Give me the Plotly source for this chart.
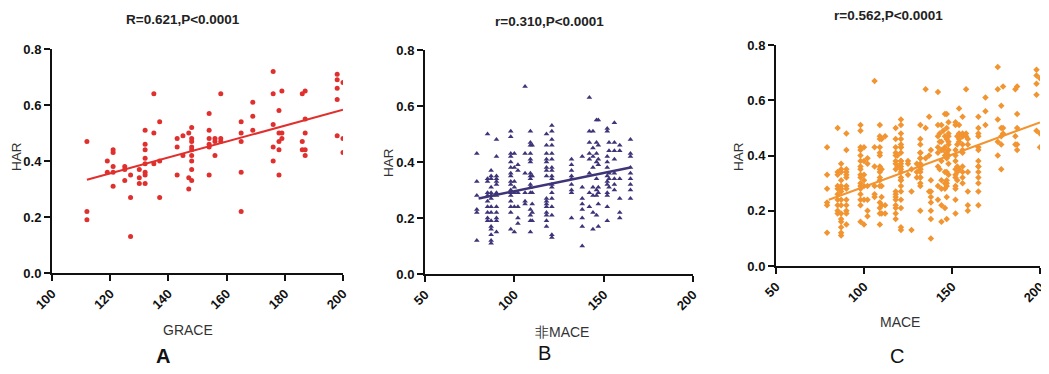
import plotly.graph_objects as go

W, H = 1049, 374
OFF = 8  # the page body adds an 8px margin around the figure

# ---------------- Panel A: GRACE vs HAR ----------------
grace_x = [112, 112, 112,
           119, 119,
           121, 121, 121, 121, 121,
           125, 125, 125,
           127, 127, 127,
           130, 130, 130,
           132, 132, 132, 132, 132, 132, 132, 132,
           135, 135, 135,
           137, 137, 137,
           143, 143, 143,
           145, 145,
           147, 147, 147,
           148, 148, 148, 148, 148, 148, 148, 148, 148,
           154, 154, 154, 154, 154, 154,
           156, 156, 156,
           158, 158, 158,
           165, 165, 165, 165, 165,
           169, 169, 169,
           176, 176, 176, 176, 176,
           178, 178, 178, 178, 178,
           179, 179, 179,
           186, 186, 186,
           187, 187, 187, 187, 187,
           198, 198, 198, 198, 198,
           200, 200, 200]
har_a = [0.47, 0.22, 0.19,
         0.40, 0.36,
         0.44, 0.43, 0.38, 0.36, 0.31,
         0.38, 0.37, 0.33,
         0.35, 0.27, 0.13,
         0.37, 0.34, 0.32,
         0.51, 0.46, 0.44, 0.41, 0.39, 0.36, 0.35, 0.32,
         0.64, 0.50, 0.39,
         0.54, 0.40, 0.27,
         0.48, 0.45, 0.35,
         0.49, 0.42,
         0.50, 0.34, 0.30,
         0.52, 0.48, 0.47, 0.45, 0.44, 0.42, 0.40, 0.37, 0.33,
         0.57, 0.51, 0.48, 0.46, 0.45, 0.35,
         0.48, 0.47, 0.42,
         0.64, 0.48, 0.47,
         0.54, 0.50, 0.47, 0.36, 0.22,
         0.61, 0.56, 0.51,
         0.72, 0.64, 0.53, 0.45, 0.40,
         0.58, 0.50, 0.47, 0.44, 0.35,
         0.65, 0.50, 0.48,
         0.64, 0.47, 0.44,
         0.65, 0.55, 0.50, 0.44, 0.42,
         0.71, 0.69, 0.66, 0.62, 0.49,
         0.68, 0.48, 0.43]
fit_a_x = [112, 200]
fit_a_y = [0.333, 0.583]

# ---------------- Panel B: non-MACE ----------------
nonmace_x = ([79] * 6 + [85] * 10 + [87] * 15 + [90] * 13 + [98] * 17 + [100] * 7
             + [102] * 6 + [106] * 6 + [109] * 16 + [110] * 6 + [118] * 16 + [121] * 18
             + [132] * 9 + [138] * 8 + [142] * 8 + [144] * 8 + [146] * 8 + [147] * 8
             + [152] * 12 + [153] * 5 + [156] * 8 + [159] * 6 + [165] * 9)
har_b = [0.43, 0.33, 0.28, 0.23, 0.22, 0.12,
         0.50, 0.34, 0.33, 0.29, 0.28, 0.26, 0.24, 0.22, 0.20, 0.19,
         0.37, 0.35, 0.34, 0.31, 0.29, 0.28, 0.27, 0.24, 0.22, 0.19, 0.17, 0.16, 0.14, 0.12, 0.11,
         0.48, 0.42, 0.35, 0.34, 0.33, 0.32, 0.29, 0.28, 0.24, 0.22, 0.20, 0.19, 0.15,
         0.51, 0.49, 0.43, 0.42, 0.40, 0.38, 0.36, 0.35, 0.33, 0.32, 0.30, 0.29, 0.28, 0.26, 0.24, 0.22, 0.16,
         0.43, 0.38, 0.33, 0.31, 0.29, 0.24, 0.15,
         0.39, 0.37, 0.29, 0.24, 0.20, 0.18,
         0.67, 0.43, 0.36, 0.29, 0.26, 0.25,
         0.51, 0.47, 0.46, 0.43, 0.41, 0.40, 0.36, 0.35, 0.34, 0.32, 0.31, 0.29, 0.23, 0.21, 0.19, 0.15,
         0.46, 0.35, 0.29, 0.25, 0.22, 0.19,
         0.50, 0.46, 0.43, 0.41, 0.40, 0.38, 0.37, 0.35, 0.27, 0.26, 0.25, 0.24, 0.22, 0.21, 0.19, 0.17,
         0.53, 0.51, 0.48, 0.46, 0.43, 0.41, 0.38, 0.37, 0.35, 0.34, 0.32, 0.31, 0.29, 0.27, 0.24, 0.21, 0.14, 0.13,
         0.41, 0.39, 0.37, 0.35, 0.34, 0.32, 0.30, 0.29, 0.20,
         0.42, 0.31, 0.27, 0.25, 0.23, 0.20, 0.17, 0.10,
         0.63, 0.51, 0.47, 0.43, 0.41, 0.36, 0.29, 0.24,
         0.51, 0.45, 0.42, 0.38, 0.31, 0.28, 0.22, 0.16,
         0.55, 0.47, 0.43, 0.40, 0.34, 0.30, 0.28, 0.21,
         0.55, 0.46, 0.41, 0.39, 0.31, 0.29, 0.25, 0.17,
         0.52, 0.51, 0.42, 0.40, 0.38, 0.35, 0.33, 0.32, 0.29, 0.28, 0.24, 0.19,
         0.47, 0.44, 0.36, 0.34, 0.31,
         0.54, 0.47, 0.44, 0.41, 0.36, 0.34, 0.32, 0.30,
         0.46, 0.44, 0.34, 0.27, 0.22, 0.20,
         0.48, 0.43, 0.42, 0.38, 0.36, 0.34, 0.32, 0.30, 0.27]
fit_b_x = [80, 165]
fit_b_y = [0.27, 0.38]

# ---------------- Panel C: MACE (all patients) ----------------
mace_x = grace_x + nonmace_x
har_c = har_a + har_b
fit_c_x = [80, 200]
fit_c_y = [0.24, 0.52]

titles = ["R=0.621,P<0.0001", "r=0.310,P<0.0001", "r=0.562,P<0.0001"]
xlabels = ["GRACE", "非MACE", "MACE"]
letters = ["A", "B", "C"]

RED = "#e0302e"
NAVY = "#3d3578"
ORANGE = "#f29430"

fig = go.Figure()

fig.add_trace(go.Scatter(x=grace_x, y=har_a, mode="markers", xaxis="x", yaxis="y",
                         marker=dict(symbol="circle", size=5, color=RED), showlegend=False))
fig.add_trace(go.Scatter(x=fit_a_x, y=fit_a_y, mode="lines", xaxis="x", yaxis="y",
                         line=dict(color=RED, width=2), showlegend=False))
fig.add_trace(go.Scatter(x=nonmace_x, y=har_b, mode="markers", xaxis="x2", yaxis="y2",
                         marker=dict(symbol="triangle-up", size=5, color=NAVY), showlegend=False))
fig.add_trace(go.Scatter(x=fit_b_x, y=fit_b_y, mode="lines", xaxis="x2", yaxis="y2",
                         line=dict(color=NAVY, width=2.5), showlegend=False))
fig.add_trace(go.Scatter(x=mace_x, y=har_c, mode="markers", xaxis="x3", yaxis="y3",
                         marker=dict(symbol="diamond", size=5, color=ORANGE), showlegend=False))
fig.add_trace(go.Scatter(x=fit_c_x, y=fit_c_y, mode="lines", xaxis="x3", yaxis="y3",
                         line=dict(color=ORANGE, width=2), showlegend=False))

tickfont = dict(family="Arial", size=13, color="#111111", weight="bold")


def xaxis(dom, rng, dtick, anchor):
    return dict(domain=dom, range=rng, dtick=dtick, tick0=0, anchor=anchor,
                showline=True, linecolor="#111111", linewidth=2,
                ticks="outside", ticklen=6, tickwidth=2, tickcolor="#111111",
                tickangle=-45, tickfont=tickfont, showgrid=False, zeroline=False,
                automargin=False)


def yaxis(dom, anchor):
    return dict(domain=dom, range=[0, 0.8], dtick=0.2, tick0=0, tickformat=".1f",
                anchor=anchor, showline=True, linecolor="#111111", linewidth=2,
                ticks="outside", ticklen=6, tickwidth=2, tickcolor="#111111",
                tickfont=tickfont, showgrid=False, zeroline=False, automargin=False)


def px(x):
    return (x - OFF) / W


def py(y):
    return 1 - (y - OFF) / H


fig.update_layout(
    width=W, height=H, margin=dict(l=0, r=0, t=0, b=0),
    paper_bgcolor="white", plot_bgcolor="white",
    xaxis=xaxis([px(52), px(343)], [100, 200], 20, "y"),
    yaxis=yaxis([py(273), py(49)], "x"),
    xaxis2=xaxis([px(425), px(693)], [50, 200], 50, "y2"),
    yaxis2=yaxis([py(274), py(50)], "x2"),
    xaxis3=xaxis([px(776), px(1040)], [50, 200], 50, "y3"),
    yaxis3=yaxis([py(266), py(45)], "x3"),
)

ann = []
title_pos = [(183, 19), (549, 21), (888, 16)]
for t, (x, y) in zip(titles, title_pos):
    ann.append(dict(text=t, x=px(x), y=py(y), xref="paper", yref="paper", showarrow=False,
                    xanchor="center", yanchor="middle",
                    font=dict(family="Arial", size=13.5, color="#222222", weight="bold")))
har_pos = [(16, 157), (388, 163), (738, 157)]
for (x, y) in har_pos:
    ann.append(dict(text="HAR", x=px(x), y=py(y), xref="paper", yref="paper", showarrow=False,
                    xanchor="center", yanchor="middle", textangle=-90,
                    font=dict(family="Arial", size=13.5, color="#333333")))
xl_pos = [(188, 330), (562, 332), (900, 322)]
for t, (x, y) in zip(xlabels, xl_pos):
    ann.append(dict(text=t, x=px(x), y=py(y), xref="paper", yref="paper", showarrow=False,
                    xanchor="center", yanchor="middle",
                    font=dict(family="Arial", size=14, color="#333333")))
let_pos = [(163, 356), (544, 353), (897, 356)]
for i, (t, (x, y)) in enumerate(zip(letters, let_pos)):
    ann.append(dict(text=t, x=px(x), y=py(y), xref="paper", yref="paper", showarrow=False,
                    xanchor="center", yanchor="middle",
                    font=dict(family="Arial", size=20, color="#111111",
                              weight="bold" if i == 0 else "normal")))
fig.update_layout(annotations=ann)

fig.write_html("out.html")
